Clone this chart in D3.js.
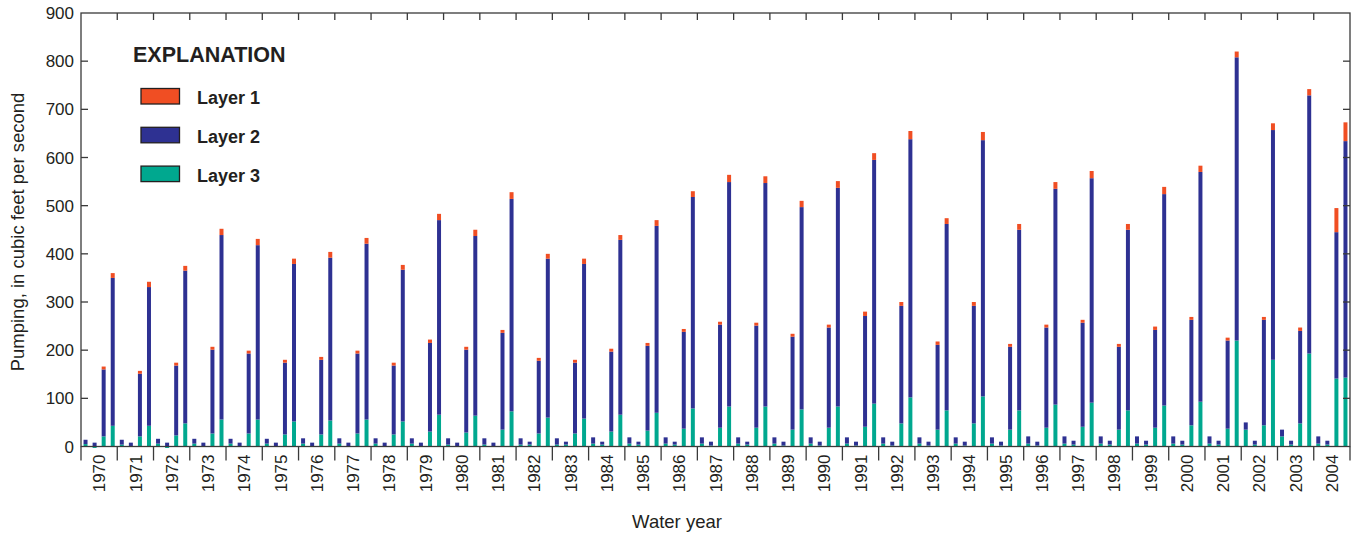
<!DOCTYPE html>
<html lang="en">
	<head>
		<meta charset="utf-8">
		<title>Pumping by layer, water years 1970-2004</title>
		<script type="text/javascript" src="https://cdn.jsdelivr.net/npm/d3@7"></script>
		<style type="text/css">
			body { margin: 0; background: #fff; }
			svg { display: block; }
			.frame line, .frame rect { stroke: #3a3a3a; stroke-width: 1.3; fill: none; }
			.tick-label { font-family: "Liberation Sans Narrow", "Arial Narrow", sans-serif; font-size: 17px; fill: #231f20; }
			.axis-title { font-family: "Liberation Sans", Arial, sans-serif; font-size: 18.5px; fill: #231f20; }
			.legend text { font-family: "Liberation Sans Narrow", "Arial Narrow", sans-serif; font-weight: bold; fill: #231f20; }
		</style>
	</head>
	<body>
		<script type="text/javascript">

			// data: one row of four bars per water year, bottom to top = Layer 3, Layer 2, Layer 1

			var years = [
				1970, 1971, 1972, 1973, 1974, 1975, 1976, 1977, 1978, 1979,
				1980, 1981, 1982, 1983, 1984, 1985, 1986, 1987, 1988, 1989,
				1990, 1991, 1992, 1993, 1994, 1995, 1996, 1997, 1998, 1999,
				2000, 2001, 2002, 2003, 2004
			];

			var periods = ["P1", "P2", "P3", "P4"];

			var layerNames = ["Layer 1", "Layer 2", "Layer 3"];

			var yTicks = [0, 100, 200, 300, 400, 500, 600, 700, 800, 900];

			var layer1 = [
				0, 0, 6, 10,   0, 0, 6, 11,   0, 0, 6, 10,   0, 0, 6, 13,   0, 0, 6, 13,
				0, 0, 6, 11,   0, 0, 6, 12,   0, 0, 6, 12,   0, 0, 6, 10,   0, 0, 7, 13,
				0, 0, 6, 13,   0, 0, 6, 14,   0, 0, 6, 10,   0, 0, 6, 11,   0, 0, 6, 10,
				0, 0, 6, 12,   0, 0, 6, 12,   0, 0, 6, 15,   0, 0, 6, 14,   0, 0, 6, 13,
				0, 0, 6, 14,   0, 0, 9, 14,   0, 0, 8, 17,   0, 0, 7, 12,   0, 0, 8, 17,
				0, 0, 6, 12,   0, 0, 6, 14,   0, 0, 6, 15,   0, 0, 6, 12,   0, 0, 7, 15,
				0, 0, 6, 13,   0, 0, 6, 12,   0, 0, 6, 14,   0, 0, 7, 13,   0, 0, 50, 39
			];

			var layer2 = [
				9, 8, 139, 307,   10, 8, 130, 288,   10, 8, 145, 317,   10, 8, 174, 383,   10, 8, 166, 362,
				10, 8, 149, 327,  11, 8, 155, 338,   11, 8, 166, 365,   11, 8, 143, 315,   11, 8, 184, 404,
				13, 8, 172, 373,  13, 8, 201, 441,   13, 6, 151, 330,   13, 6, 147, 321,   13, 6, 166, 363,
				13, 6, 176, 388,  13, 6, 201, 439,   13, 8, 214, 466,   13, 6, 212, 464,   13, 8, 193, 420,
				13, 8, 208, 454,  13, 8, 230, 506,   13, 8, 244, 536,   13, 8, 176, 387,   13, 8, 244, 532,
				13, 8, 172, 375,  15, 8, 208, 448,   15, 8, 216, 466,   15, 8, 172, 375,   15, 8, 203, 439,
				15, 8, 219, 477,  15, 8, 183, 588,   15, 8, 219, 477,   14, 8, 192, 536,   15, 8, 304, 491
			];

			var layer3 = [
				5, -3, 21, 43,   4, 0, 21, 43,   6, -3, 23, 48,   6, 0, 27, 56,   6, 0, 27, 56,
				6, 0, 25, 52,    6, 0, 25, 54,   6, 0, 27, 56,    6, 0, 25, 52,   6, 0, 31, 66,
				4, 0, 29, 64,    4, 0, 35, 73,   4, 4, 27, 60,    4, 4, 27, 58,   6, 4, 31, 66,
				6, 4, 33, 70,    6, 4, 37, 79,   6, 2, 39, 83,    6, 4, 39, 83,   6, 2, 35, 77,
				6, 2, 39, 83,    6, 2, 41, 89,   6, 2, 48, 102,   6, 2, 35, 75,   6, 2, 48, 104,
				6, 2, 35, 75,    6, 2, 39, 87,   6, 4, 41, 91,    6, 4, 35, 75,   6, 4, 39, 85,
				6, 4, 44, 93,    6, 4, 37, 220,  35, 4, 44, 180,  21, 4, 48, 193, 6, 4, 141, 143
			];

			var colors = { "Layer 1": "#f04e23", "Layer 2": "#2e3192", "Layer 3": "#00a88f" };

			//1. sizes

			var w = 1356;
			var h = 535;
			var margin = { top: 13, right: 6, bottom: 88.5, left: 81 };
			var pw = w - margin.left - margin.right;
			var ph = h - margin.top - margin.bottom;

			var rows = [];
			for (var i = 0; i < layer1.length; i++) {
				rows.push({
					year: years[Math.floor(i / 4)],
					period: periods[i % 4],
					"Layer 1": layer1[i],
					"Layer 2": layer2[i],
					"Layer 3": layer3[i]
				});
			}

			var series = d3.stack()
				.keys(["Layer 3", "Layer 2", "Layer 1"])
				.offset(d3.stackOffsetDiverging)(rows);

			//2. scales

			var xYear = d3.scaleBand()
				.domain(years)
				.range([0, pw]);

			var xPeriod = d3.scaleBand()
				.domain(periods)
				.range([0, xYear.bandwidth()])
				.paddingInner(0.56)
				.paddingOuter(0.28);

			var yScale = d3.scaleLinear()
				.domain([0, 900])
				.range([ph, 0]);

			var svg = d3.select("body")
				.append("svg")
				.attr("width", w)
				.attr("height", h);

			var g = svg.append("g")
				.attr("transform", "translate(" + margin.left + "," + margin.top + ")");

			//3. bars

			g.selectAll("g.layer")
				.data(series)
				.enter()
				.append("g")
				.attr("class", "layer")
				.attr("fill", function(s) { return colors[s.key]; })
				.selectAll("rect")
				.data(function(s) { return s; })
				.enter()
				.append("rect")
				.attr("x", function(d) { return xYear(d.data.year) + xPeriod(d.data.period); })
				.attr("width", xPeriod.bandwidth())
				.attr("y", function(d) { return yScale(Math.max(d[0], d[1])); })
				.attr("height", function(d) { return Math.abs(yScale(d[0]) - yScale(d[1])); });

			//4. frame and ticks

			var frame = g.append("g").attr("class", "frame");

			frame.append("rect")
				.attr("x", 0)
				.attr("y", 0)
				.attr("width", pw)
				.attr("height", ph);

			// left and right inward ticks
			frame.selectAll("line.yl")
				.data(yTicks.slice(1, -1))
				.enter()
				.append("line")
				.attr("x1", 0).attr("x2", 7)
				.attr("y1", function(d) { return yScale(d); })
				.attr("y2", function(d) { return yScale(d); });

			frame.selectAll("line.yr")
				.data(yTicks.slice(1, -1))
				.enter()
				.append("line")
				.attr("x1", pw - 7).attr("x2", pw)
				.attr("y1", function(d) { return yScale(d); })
				.attr("y2", function(d) { return yScale(d); });

			// year boundaries: top inward, bottom outward
			var bounds = years.map(function(y) { return xYear(y); }).concat([pw]);

			frame.selectAll("line.xt")
				.data(bounds.slice(1, -1))
				.enter()
				.append("line")
				.attr("x1", function(d) { return d; })
				.attr("x2", function(d) { return d; })
				.attr("y1", 0).attr("y2", 7);

			frame.selectAll("line.xb")
				.data(bounds)
				.enter()
				.append("line")
				.attr("x1", function(d) { return d; })
				.attr("x2", function(d) { return d; })
				.attr("y1", ph).attr("y2", ph + 14);

			//5. tick labels

			g.selectAll("text.ylab")
				.data(yTicks)
				.enter()
				.append("text")
				.attr("class", "tick-label")
				.attr("x", -7)
				.attr("y", function(d) { return yScale(d); })
				.attr("dy", "0.36em")
				.attr("text-anchor", "end")
				.text(function(d) { return d; });

			g.selectAll("text.xlab")
				.data(years)
				.enter()
				.append("text")
				.attr("class", "tick-label")
				.attr("transform", function(d) {
					return "translate(" + (xYear(d) + xYear.bandwidth() / 2) + "," + (ph + 8) + ") rotate(-90)";
				})
				.attr("dy", "0.36em")
				.attr("text-anchor", "end")
				.text(function(d) { return d; });

			//6. axis titles

			svg.append("text")
				.attr("class", "axis-title")
				.attr("x", 677)
				.attr("y", 528)
				.attr("text-anchor", "middle")
				.text("Water year");

			svg.append("text")
				.attr("class", "axis-title")
				.attr("transform", "translate(24,232) rotate(-90)")
				.attr("text-anchor", "middle")
				.text("Pumping, in cubic feet per second");

			//7. explanation

			var legend = svg.append("g").attr("class", "legend");

			legend.append("text")
				.attr("x", 133)
				.attr("y", 61.5)
				.attr("font-size", "21.5px")
				.text("EXPLANATION");

			var items = legend.selectAll("g.item")
				.data(layerNames)
				.enter()
				.append("g")
				.attr("transform", function(d, i) { return "translate(141," + (88.5 + i * 38.8) + ")"; });

			items.append("rect")
				.attr("width", 38.5)
				.attr("height", 15.5)
				.attr("fill", function(d) { return colors[d]; })
				.attr("stroke", "#231f20")
				.attr("stroke-width", 1.3);

			items.append("text")
				.attr("x", 56)
				.attr("y", 15.5)
				.attr("font-size", "18px")
				.text(function(d) { return d; });

		</script>
	</body>
</html>
